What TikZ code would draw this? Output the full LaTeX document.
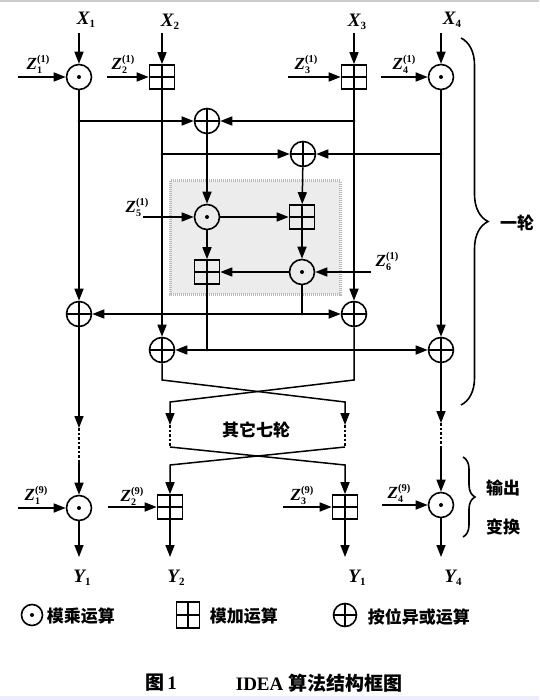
\documentclass[tikz,border=0pt]{standalone}
\usepackage{fontspec}
\setmainfont{Liberation Serif}
\newfontfamily\cjk{Noto Sans CJK SC}
\usetikzlibrary{arrows.meta,decorations.pathreplacing}
\newcommand{\zl}[2]{{\fontsize{17}{17}\selectfont\bfseries\itshape Z}\makebox[0pt][l]{\raisebox{-3.5pt}{\fontsize{10}{10}\selectfont\bfseries #1}}\raisebox{7.5pt}{\fontsize{10.5}{10.5}\selectfont\bfseries (#2)}}
\newcommand{\vl}[2]{{\fontsize{19}{19}\selectfont\bfseries\itshape #1}\raisebox{-3.5pt}{\fontsize{11}{11}\selectfont\bfseries #2}}
\begin{document}
\begin{tikzpicture}[x=1pt,y=-1pt,line width=1.5pt,
  arr/.style={-{Triangle[length=12pt,width=9pt]}},
  crosspic/.style={path picture={\draw[line width=1.2pt] (path picture bounding box.north)--(path picture bounding box.south) (path picture bounding box.west)--(path picture bounding box.east);}},
  opmul/.style={circle,draw,line width=1.6pt,minimum size=25pt,inner sep=0pt,path picture={\fill (path picture bounding box.center) circle (2pt);}},
  opxor/.style={circle,draw,line width=1.6pt,minimum size=25pt,inner sep=0pt,crosspic},
  opadd/.style={rectangle,draw,line width=1.6pt,minimum width=25pt,minimum height=24pt,inner sep=0pt,crosspic},
  lab/.style={inner sep=0pt},
  cjklab/.style={inner sep=0pt,font=\cjk\bfseries\fontsize{17}{17}\selectfont},
  jdot/.style={circle,fill,inner sep=0pt,minimum size=2.8pt},
  brk/.style={line width=1.3pt,dash pattern=on 2.5pt off 2pt}]
\useasboundingbox (0,0) rectangle (539,700);
\fill[white] (0,0) rectangle (539,700);
\draw[gray!40,line width=1.5pt] (0,1) -- (539,1);
\fill[blue!7] (0,696) rectangle (539,700);

% shaded MA box
\draw[fill=gray!15,draw=gray!55,line width=3pt,dash pattern=on 1pt off 1pt] (170,181) rectangle (340,294);

% top row
\node[opmul] (m1) at (79,77) {};
\node[opadd] (a2) at (162,77) {};
\node[opadd] (a3) at (354,77) {};
\node[opmul] (m4) at (441,77) {};
% xor row
\node[opxor] (x5) at (207,121) {};
\node[opxor] (x6) at (303,154) {};
% MA structure
\node[opmul] (m5) at (207,217) {};
\node[opadd] (a6) at (302,217) {};
\node[opadd] (a7) at (207,272) {};
\node[opmul] (m6) at (302,272) {};
% output xors
\node[opxor] (x1) at (79,314) {};
\node[opxor] (x3) at (354,314) {};
\node[opxor] (x2) at (162,350) {};
\node[opxor] (x4) at (441,350) {};
% output transform
\node[opmul] (o1) at (79,508) {};
\node[opadd] (o2) at (170,507) {};
\node[opadd] (o3) at (345,507) {};
\node[opmul] (o4) at (441,505) {};

% input labels
\node[lab] (X1) at (86,20) {\vl{X}{1}};
\node[lab] (X2) at (170,22) {\vl{X}{2}};
\node[lab] (X3) at (357,22) {\vl{X}{3}};
\node[lab] (X4) at (452,20) {\vl{X}{4}};
\coordinate (i1) at (79,33);
\coordinate (i2) at (162,33);
\coordinate (i3) at (354,33);
\coordinate (i4) at (441,33);
\draw[arr] (i1) -- (m1);
\draw[arr] (i2) -- (a2);
\draw[arr] (i3) -- (a3);
\draw[arr] (i4) -- (m4);

% key labels round 1
\node[lab] (Z1) at (38,64) {\zl{1}{1}};
\node[lab] (Z2) at (123,64) {\zl{2}{1}};
\node[lab] (Z3) at (306,64) {\zl{3}{1}};
\node[lab] (Z4) at (404,64) {\zl{4}{1}};
\node[lab] (Z5) at (137,207) {\zl{5}{1}};
\node[lab] (Z6) at (387,261) {\zl{6}{1}};
\coordinate (s1) at (18,77);
\coordinate (s2) at (107,77);
\coordinate (s3) at (288,77);
\coordinate (s4) at (381,77);
\coordinate (s5) at (143,217);
\coordinate (s6) at (371,272);
\draw[arr] (s1) -- (m1);
\draw[arr] (s2) -- (a2);
\draw[arr] (s3) -- (a3);
\draw[arr] (s4) -- (m4);
\draw[arr] (s5) -- (m5);
\draw[arr] (s6) -- (m6);

% vertical data lines
\draw[arr] (m1) -- (x1);
\draw[arr] (a2) -- (x2);
\draw[arr] (a3) -- (x3);
\draw[arr] (m4) -- (x4);

% junctions
\coordinate (j1) at (79,121);
\coordinate (j2) at (354,121);
\coordinate (j3) at (162,154);
\coordinate (j4) at (441,154);
\coordinate (j5) at (302,314);
\coordinate (j6) at (207,350);
\draw[arr] (j1) -- (x5);
\draw[arr] (j2) -- (x5);
\draw[arr] (j3) -- (x6);
\draw[arr] (j4) -- (x6);

% MA structure connections
\draw[arr] (x5) -- (m5);
\draw[arr] (x6) -- (a6);
\draw[arr] (m5) -- (a6);
\draw[arr] (m5) -- (a7);
\draw[arr] (a6) -- (m6);
\draw[arr] (m6) -- (a7);
\draw (m6) -- (j5);
\draw[arr] (j5) -- (x1);
\draw[arr] (j5) -- (x3);
\draw (a7) -- (j6);
\draw[arr] (j6) -- (x2);
\draw[arr] (j6) -- (x4);

\foreach \j in {j1,j2,j3,j4,j5,j6} \node[jdot] at (\j) {};

% crossing and other rounds
\coordinate (k1) at (162,380);
\coordinate (k2) at (345,402);
\coordinate (k3) at (345,425);
\coordinate (k4) at (345,447);
\coordinate (k5) at (354,380);
\coordinate (k6) at (170,402);
\coordinate (k7) at (170,425);
\coordinate (k8) at (170,447);
\coordinate (k9) at (345,465);
\coordinate (k10) at (170,465);
\draw[arr] (x2) -- (k1) -- (k2) -- (k3);
\draw[arr] (x3) -- (k5) -- (k6) -- (k7);
\draw[brk] (k3) -- (k4);
\draw[brk] (k7) -- (k8);
\draw[arr] (k8) -- (k9) -- (o3);
\draw[arr] (k4) -- (k10) -- (o2);
\node[cjklab] (other) at (256,430) {其它七轮};

\coordinate (p1) at (79,428);
\coordinate (p2) at (79,460);
\coordinate (q1) at (441,423);
\coordinate (q2) at (441,447);
\draw[arr] (x1) -- (p1);
\draw[brk] (p1) -- (p2);
\draw[arr] (p2) -- (o1);
\draw[arr] (x4) -- (q1);
\draw[brk] (q1) -- (q2);
\draw[arr] (q2) -- (o4);

% output keys
\node[lab] (W1) at (36,495) {\zl{1}{9}};
\node[lab] (W2) at (132,496) {\zl{2}{9}};
\node[lab] (W3) at (302,495) {\zl{3}{9}};
\node[lab] (W4) at (399,493) {\zl{4}{9}};
\coordinate (t1) at (18,508);
\coordinate (t2) at (108,507);
\coordinate (t3) at (283,507);
\coordinate (t4) at (382,505);
\draw[arr] (t1) -- (o1);
\draw[arr] (t2) -- (o2);
\draw[arr] (t3) -- (o3);
\draw[arr] (t4) -- (o4);

% outputs
\coordinate (e1) at (79,557);
\coordinate (e2) at (170,557);
\coordinate (e3) at (345,557);
\coordinate (e4) at (441,557);
\draw[arr] (o1) -- (e1);
\draw[arr] (o2) -- (e2);
\draw[arr] (o3) -- (e3);
\draw[arr] (o4) -- (e4);
\node[lab] (Y1) at (82,578) {\vl{Y}{1}};
\node[lab] (Y2) at (176,578) {\vl{Y}{2}};
\node[lab] (Y3) at (357,578) {\vl{Y}{1}};
\node[lab] (Y4) at (453,578) {\vl{Y}{4}};

% braces
\draw[line width=1.6pt,decorate,decoration={brace,amplitude=27pt}] (461,38) -- (461,405);
\node[cjklab] (round) at (517,223) {一轮};
\draw[line width=1.6pt,decorate,decoration={brace,amplitude=12pt}] (463,457) -- (463,537);
\node[cjklab] (out1) at (503,488) {输出};
\node[cjklab] (out2) at (503,527) {变换};

% legend
\node[opmul,minimum size=21pt] (lm) at (32,615) {};
\node[cjklab,anchor=west] (lmt) at (46,616) {模乘运算};
\node[opadd,minimum width=23pt,minimum height=26pt] (la) at (188,615) {};
\node[cjklab,anchor=west] (lat) at (209,616) {模加运算};
\node[opxor,minimum size=23pt] (lx) at (345,615) {};
\node[cjklab,anchor=west] (lxt) at (367,617) {按位异或运算};

% caption
\node[lab,font=\fontsize{19}{19}\selectfont\bfseries] (cap1) at (161,683) {{\cjk 图}\,1};
\node[lab,font=\fontsize{19}{19}\selectfont\bfseries] (cap2) at (319,683) {IDEA {\cjk 算法结构框图}};
\end{tikzpicture}
\end{document}
